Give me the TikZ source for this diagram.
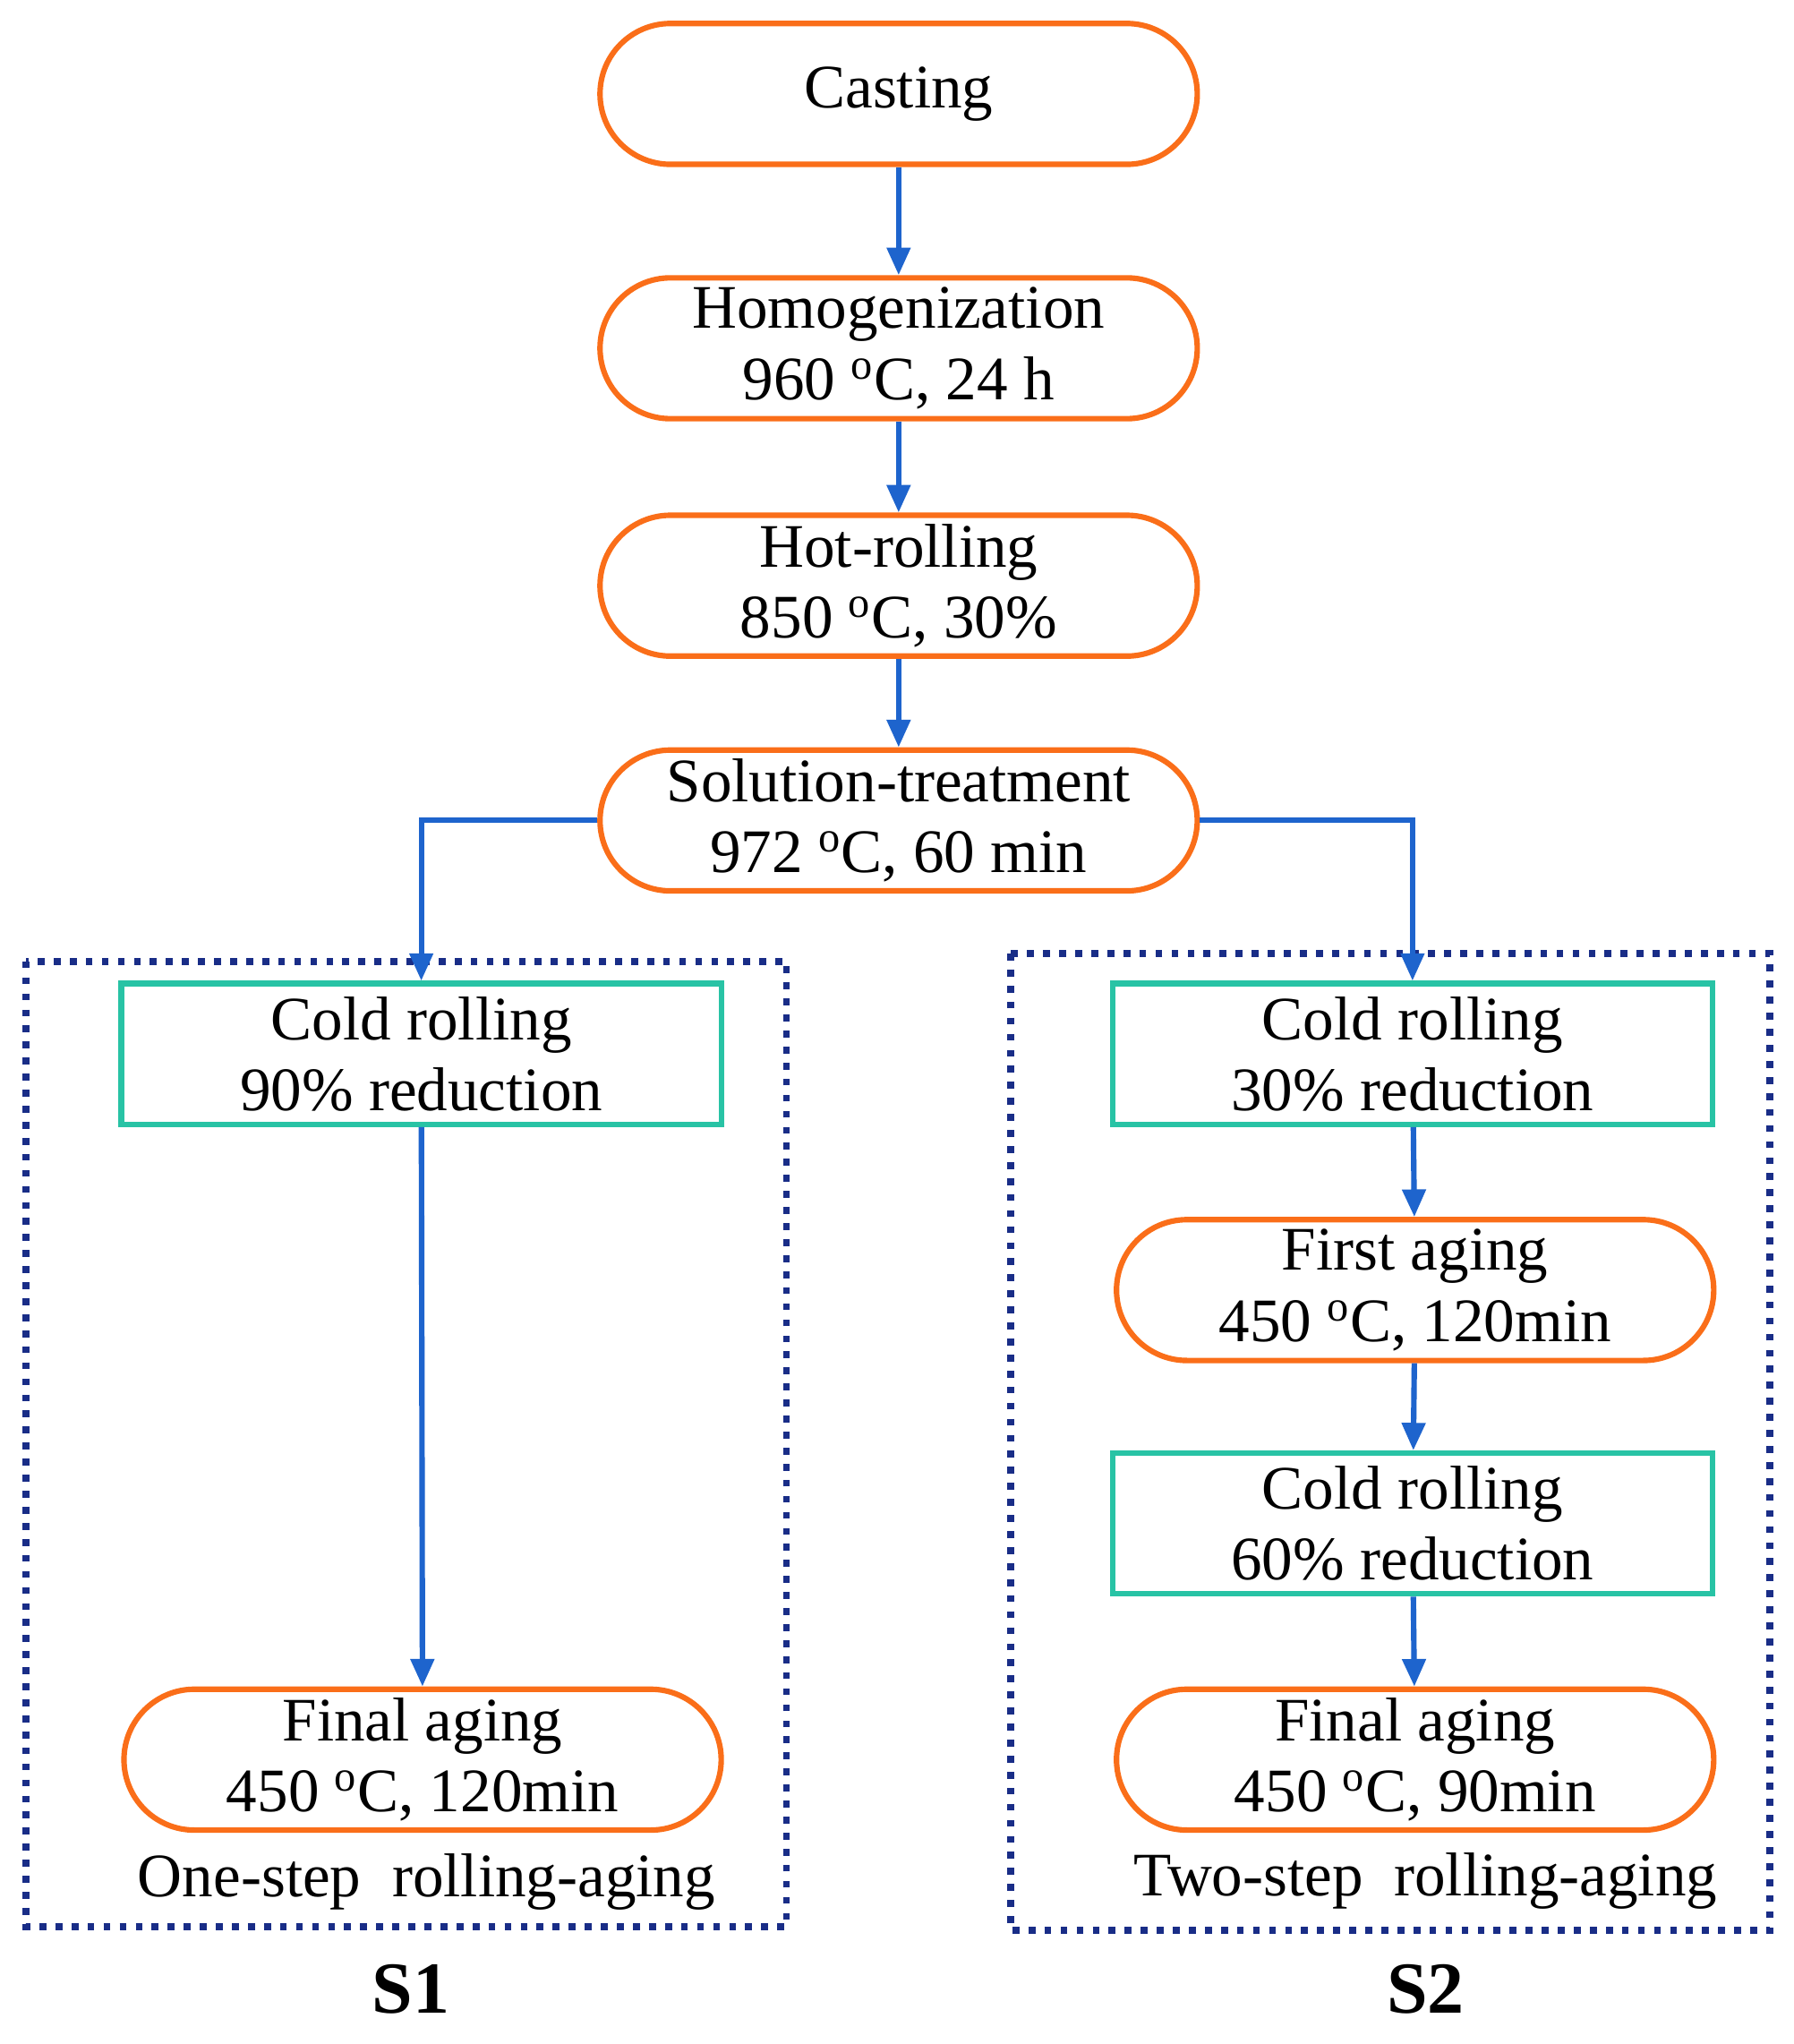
\documentclass[tikz,border=0pt]{standalone}
\usepackage{fontspec}
\setmainfont{Liberation Serif}
\usetikzlibrary{arrows.meta}
\definecolor{org}{RGB}{250,110,25}
\definecolor{tl}{RGB}{40,195,165}
\definecolor{bl}{RGB}{30,100,205}
\definecolor{nv}{RGB}{25,45,135}
\begin{document}
\begin{tikzpicture}[x=0.02cm,y=-0.02cm,
 every node/.style={font=\fontsize{27}{31}\selectfont,align=center},
 st/.style={draw=org,line width=2.4pt,rounded corners=1.08cm,minimum width=9.16cm,minimum height=2.16cm,inner sep=0pt},
 bx/.style={draw=tl,line width=2.4pt,minimum width=9.2cm,minimum height=2.16cm,inner sep=0pt},
 ar/.style={draw=bl,line width=2.4pt,-{Triangle[length=12pt,width=10pt]}},
 dt/.style={draw=nv,line width=3pt,dash pattern=on 3pt off 4pt}]
\useasboundingbox (0,0) rectangle (1375,1567);
\node[st] (cast) at (689,72) {Casting};
\node[st] (hom) at (689,267) {Homogenization\\960 \textsuperscript{o}C, 24 h};
\node[st] (hot) at (689,449) {Hot-rolling\\850 \textsuperscript{o}C, 30\%};
\node[st] (sol) at (689,629) {Solution-treatment\\972 \textsuperscript{o}C, 60 min};
\draw[dt] (20,737) rectangle (603,1477);
\draw[dt] (775,731) rectangle (1357,1480);
\node[bx] (c1) at (323,808) {Cold rolling\\90\% reduction};
\node[st] (f1) at (324,1349) {Final aging\\450 \textsuperscript{o}C, 120min};
\node[bx] (c2) at (1083,808) {Cold rolling\\30\% reduction};
\node[st] (a2) at (1085,989) {First aging\\450 \textsuperscript{o}C, 120min};
\node[bx] (c3) at (1083,1168) {Cold rolling\\60\% reduction};
\node[st] (f2) at (1085,1349) {Final aging\\450 \textsuperscript{o}C, 90min};
\node (l1) at (327,1443) {One-step\ \ rolling-aging};
\node (l2) at (1093,1442) {Two-step\ \ rolling-aging};
\node[font=\fontsize{32}{36}\selectfont\bfseries] (s1) at (315,1525) {S1};
\node[font=\fontsize{32}{36}\selectfont\bfseries] (s2) at (1093,1525) {S2};
\draw[ar] (cast) -- (hom);
\draw[ar] (hom) -- (hot);
\draw[ar] (hot) -- (sol);
\draw[ar] (sol.west) -| (c1.north);
\draw[ar] (sol.east) -| (c2.north);
\draw[ar] (c1) -- (f1);
\draw[ar] (c2) -- (a2);
\draw[ar] (a2) -- (c3);
\draw[ar] (c3) -- (f2);
\end{tikzpicture}
\end{document}
